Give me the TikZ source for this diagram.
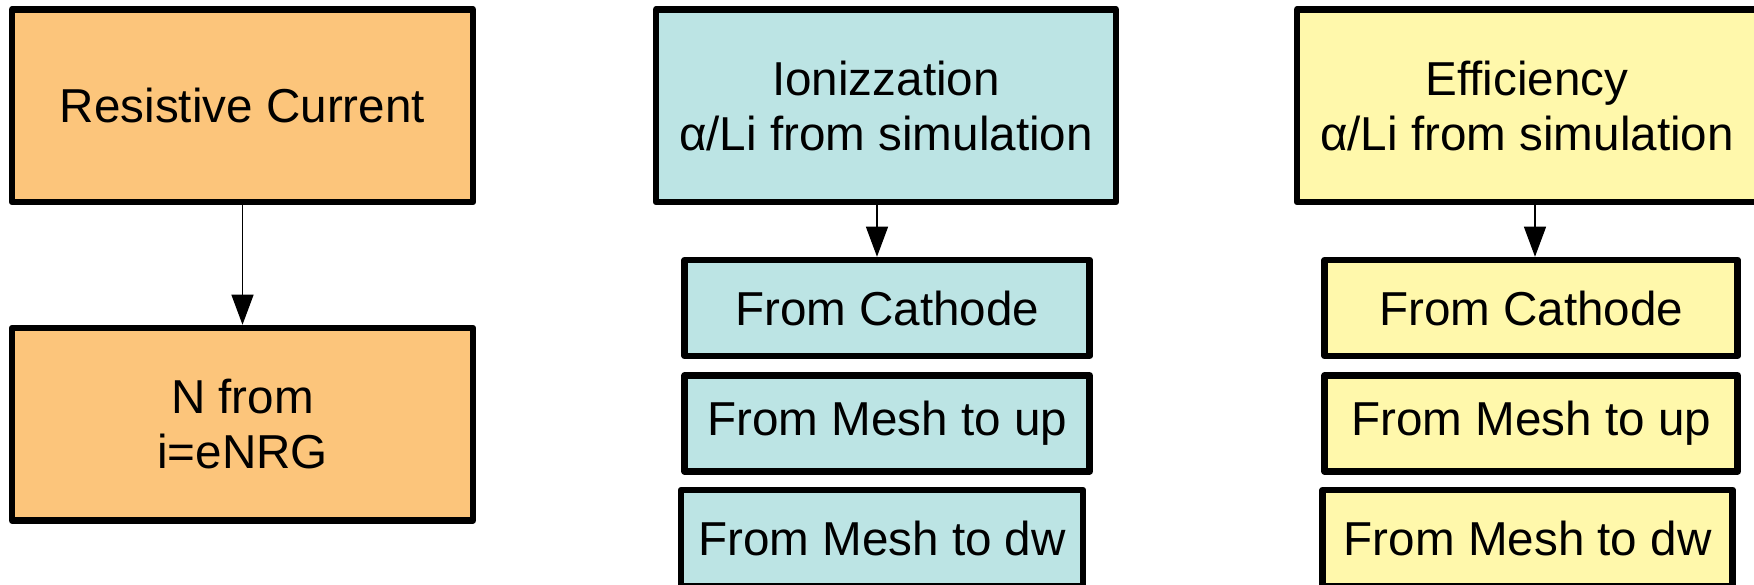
\documentclass[tikz,border=0pt]{standalone}
\usepackage{fontspec}
\setmainfont{Liberation Sans}
\usetikzlibrary{arrows.meta}
\definecolor{resorange}{HTML}{FCC57B}
\definecolor{ionteal}{HTML}{BCE4E4}
\definecolor{effyellow}{HTML}{FFF8AB}

\begin{document}
\begin{tikzpicture}[x=1pt,y=-1pt,
    box/.style={draw=black, line width=6.5pt, line join=round, inner sep=0pt, align=center,
        font=\fontsize{47.6}{54.7}\selectfont},
    bigbox/.style={box, minimum width=460pt, minimum height=192.5pt},
    smallbox/.style={box, minimum height=96pt},
    arr/.style={-{Triangle[length=30pt,width=22pt]}, line width=1.2pt}]
    % Fix the page size
    \useasboundingbox (0,0) rectangle (1754,585);
    % Left column
    \node[bigbox, fill=resorange, minimum width=461pt] (res) at (242.5,105.75) {Resistive Current};
    \node[bigbox, fill=resorange, minimum width=461pt] (nfrom) at (242.5,424.25) {N from\\i=eNRG};
    \draw[arr] (res) -- (nfrom);
    % Middle column
    \node[bigbox, fill=ionteal] (ion) at (886,105.75) {Ionizzation\\α/Li from simulation};
    \node[smallbox, fill=ionteal, minimum width=405pt] (ioncat) at (887.2,308) {From Cathode};
    \node[smallbox, fill=ionteal, minimum width=405pt] (ionup) at (887.2,423.4) {From Mesh to up};
    \node[smallbox, fill=ionteal, minimum width=402pt] (iondw) at (882,538) {From Mesh to dw};
    \coordinate (ionarr) at ([xshift=-9pt]ion.south);
    \draw[arr] (ionarr) -- (ionarr |- ioncat.north);
    % Right column
    \node[bigbox, fill=effyellow] (eff) at (1527,105.75) {Efficiency\\α/Li from simulation};
    \node[smallbox, fill=effyellow, minimum width=413pt] (effcat) at (1531.2,308) {From Cathode};
    \node[smallbox, fill=effyellow, minimum width=413pt] (effup) at (1531.2,423.4) {From Mesh to up};
    \node[smallbox, fill=effyellow, minimum width=410pt] (effdw) at (1527.7,538) {From Mesh to dw};
    \coordinate (effarr) at ([xshift=8pt]eff.south);
    \draw[arr] (effarr) -- (effarr |- effcat.north);
\end{tikzpicture}
\end{document}
